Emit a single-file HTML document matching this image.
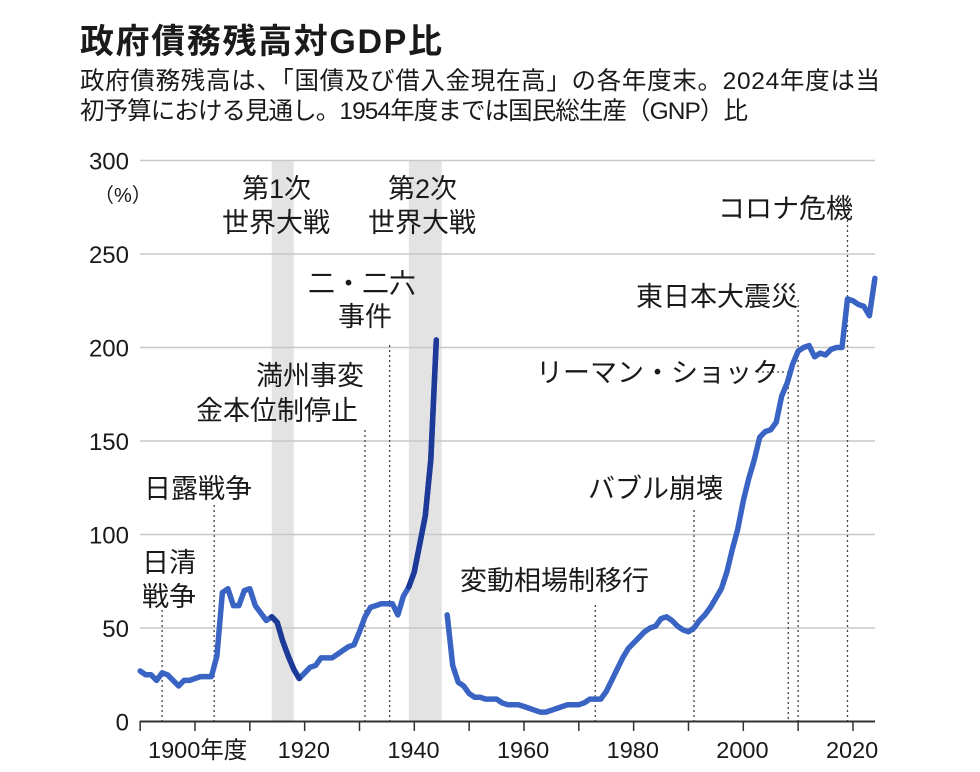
<!DOCTYPE html>
<html><head><meta charset="utf-8"><style>
body{margin:0;background:#fff;width:980px;height:767px;overflow:hidden;font-family:"Liberation Sans","Noto Sans CJK JP",sans-serif;}
text{font-family:"Liberation Sans","Noto Sans CJK JP",sans-serif;fill:#1a1a1a;}
</style></head><body>
<svg id="chart" width="980" height="767" viewBox="0 0 980 767">
<text x="80" y="53" font-size="34" font-weight="bold" fill="#111" textLength="362">政府債務残高対GDP比</text>
<text x="80" y="89" font-size="24.5" textLength="800">政府債務残高は、「国債及び借入金現在高」の各年度末。2024年度は当</text>
<text x="80" y="119" font-size="24.5" textLength="668">初予算における見通し。1954年度までは国民総生産（GNP）比</text>
<g id="bands"></g><g id="grid"></g><g id="events"></g><g id="axes"></g><g id="lines"></g><g id="labels"></g>
</svg>
<script>
const prewar=[27,25,25,22,26,25,22,19,22,22,23,24,24,24,35,69,71,62,62,70,71,62,58,54,56,53,43,35,28,23,26,29,30,34,34,34,36,38,40,41,48,56,61,62,63,63,63,57,67,72,80,95,110,140,204];
const postwar=[57,30,21,19,15,13,13,12,12,12,10,9,9,9,8,7,6,5,5,6,7,8,9,9,9,10,12,12,12,16,22,28,34,39,42,45,48,50,51,55,56,54,51,49,48,50,54,57,61,66,71,80,92,103,118,130,140,152,155,156,160,174,181,191,198,200,201,195,197,196,199,200,200,226,225,223,222,217,237];
const preStart=1890;
const postStart=1946;
const yTicks=[0,50,100,150,200,250,300];
const xTicks=[1890,1900,1910,1920,1930,1940,1950,1960,1970,1980,1990,2000,2010,2020];
const xLabels=[[1900,"1900年度"],[1920,"1920"],[1940,"1940"],[1960,"1960"],[1980,"1980"],[2000,"2000"],[2020,"2020"]];
const wars=[[1914,1918],[1939,1945]];
const eventYears=[1894,1903.5,1931,1935.5,1973,1991,2008.2,2010,2019];
const X=y=>195+(y-1900)*5.483, Y=v=>721.5-v*1.87;
const NS="http://www.w3.org/2000/svg";
function mk(p,t,a){const e=document.createElementNS(NS,t);for(const k in a)e.setAttribute(k,a[k]);document.getElementById(p).appendChild(e);return e;}
wars.forEach(w=>{const r=mk("bands","rect",{x:X(w[0]),y:160,width:X(w[1])-X(w[0]),height:561,fill:"#e3e3e3"});

});
yTicks.forEach(v=>{if(v>0){const l=mk("grid","line",{x1:140,x2:875,y1:Y(v),y2:Y(v),stroke:"#c8c8c8","stroke-width":1.5});

}
const t=mk("labels","text",{x:129,y:Y(v)+9,"text-anchor":"end","font-size":24});t.textContent=v;

});
const pu=mk("labels","text",{x:94,y:202,"font-size":20});pu.textContent="（%）";


eventYears.forEach(e=>{const l=mk("events","line",{x1:X(e),x2:X(e),y1:e>2015?220:(e>2005?(e>2009?300:372):(e==1935.5?345:(e==1931?430:(e==1903.5?505:(e==1894?610:(e==1973?605:510)))))),y2:721,stroke:"#444","stroke-width":1.3,"stroke-dasharray":"2 3"});

});
const ll=mk("events","line",{x1:757,x2:788,y1:372,y2:372,stroke:"#444","stroke-width":1.3,"stroke-dasharray":"2 3"});


const ax=mk("axes","line",{x1:140,x2:875,y1:721.5,y2:721.5,stroke:"#333","stroke-width":2});


xTicks.forEach(t=>{const l=mk("axes","line",{x1:X(t),x2:X(t),y1:721,y2:731,stroke:"#333","stroke-width":1.5});

});
xLabels.forEach(p=>{const t=mk("labels","text",{x:X(p[0])-(p[0]==1900?47:27),y:758,"font-size":23.5});t.textContent=p[1];

});
function path(vals,y0){return vals.map((v,i)=>(i?"L":"M")+X(y0+i).toFixed(1)+","+Y(v).toFixed(1)).join("");}
const p1=mk("lines","path",{d:path(prewar,preStart),fill:"none",stroke:"#3a64c4","stroke-width":5.5,"stroke-linejoin":"round","stroke-linecap":"round"});


[[1914,1919],[1939,1944]].forEach(r=>{const seg=prewar.slice(r[0]-preStart,r[1]-preStart+1);
const d=mk("lines","path",{d:path(seg,r[0]),fill:"none",stroke:"#1d3a98","stroke-width":5.5,"stroke-linejoin":"round","stroke-linecap":"round"});

});
const p2=mk("lines","path",{d:path(postwar,postStart),fill:"none",stroke:"#3a64c4","stroke-width":5.5,"stroke-linejoin":"round","stroke-linecap":"round"});


const ann=[["第1次",242,198],["世界大戦",222,232],["第2次",388,198],["世界大戦",368,232],["二・二六",308,293],["事件",338,326],["満州事変",256,385],["金本位制停止",196,420],["日露戦争",144,498],["日清",142,572],["戦争",142,606],["変動相場制移行",460,590],["バブル崩壊",588,498],["リーマン・ショック",536,382],["東日本大震災",636,306],["コロナ危機",718,218]];
ann.forEach(a=>{const t=mk("labels","text",{x:a[1],y:a[2],"font-size":27});t.textContent=a[0];

});
</script>
</body></html>
